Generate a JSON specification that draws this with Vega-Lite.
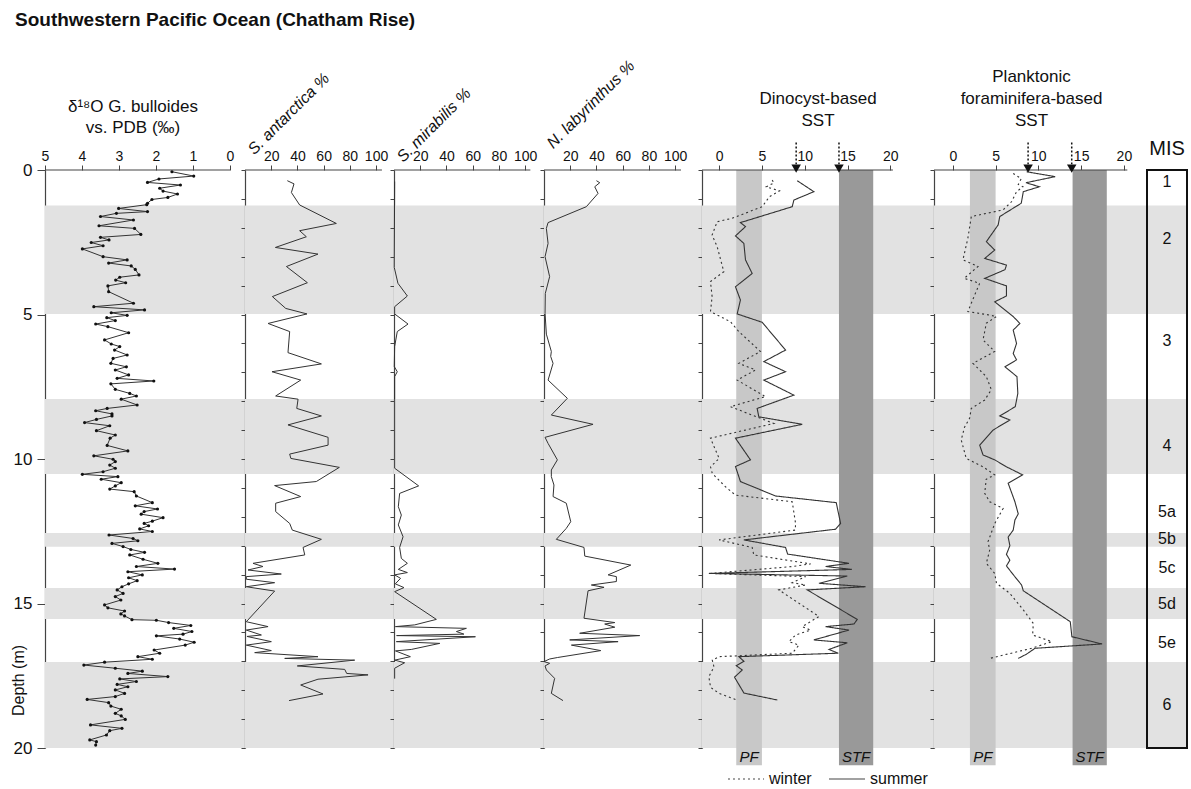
{
"$schema": "https://vega.github.io/schema/vega-lite/v6.json",
"padding": {"left": 10, "top": 10, "right": 0, "bottom": 0},
"title": {"text": "Southwestern Pacific Ocean (Chatham Rise)", "anchor": "start", "fontSize": 19, "fontWeight": "bold", "offset": 28, "dx": 5, "color": "#111"},
"spacing": 0,
"bounds": "flush",
"resolve": {"scale": {"strokeDash": "independent", "color": "independent"}, "legend": {"strokeDash": "independent"}},
"config": {
  "font": "Liberation Sans",
  "view": {"stroke": null},
  "axis": {"grid": false, "domainColor": "#444", "tickColor": "#444", "labelColor": "#111", "labelFont": "Liberation Sans", "titleFont": "Liberation Sans", "titleColor": "#111", "labelOverlap": false, "labelFlush": false},
  "title": {"font": "Liberation Sans", "color": "#111", "fontWeight": "normal"}
},
"datasets": {
  "bands": [{"top":1.23,"bottom":4.98},{"top":7.92,"bottom":10.52},{"top":12.56,"bottom":13.04},{"top":14.46,"bottom":15.54},{"top":17.02,"bottom":20}],
  "fronts": [{"front":"PF","lo":2,"hi":5},{"front":"STF","lo":14,"hi":18}],
  "arrows": [{"proxy":"dino","t":9},{"proxy":"dino","t":14},{"proxy":"foram","t":8.8},{"proxy":"foram","t":13.9}],
  "mis": [{"stage":"1","d":0.42},{"stage":"2","d":2.4},{"stage":"3","d":5.9},{"stage":"4","d":9.55},{"stage":"5a","d":11.83},{"stage":"5b","d":12.77},{"stage":"5c","d":13.77},{"stage":"5d","d":15.0},{"stage":"5e","d":16.37},{"stage":"6","d":18.5}],
  "d18o": [{"d":0.06,"v":1.57},{"d":0.21,"v":0.98},{"d":0.31,"v":1.92},{"d":0.43,"v":2.23},{"d":0.52,"v":1.34},{"d":0.63,"v":1.9},{"d":0.73,"v":1.81},{"d":0.83,"v":1.42},{"d":0.95,"v":1.68},{"d":1.02,"v":2.11},{"d":1.15,"v":2.23},{"d":1.2,"v":2.25},{"d":1.33,"v":3.01},{"d":1.44,"v":2.23},{"d":1.5,"v":3.07},{"d":1.61,"v":3.5},{"d":1.73,"v":2.61},{"d":1.93,"v":3.54},{"d":2.02,"v":2.58},{"d":2.23,"v":2.41},{"d":2.33,"v":3.5},{"d":2.42,"v":3.27},{"d":2.51,"v":3.75},{"d":2.62,"v":3.43},{"d":2.73,"v":3.99},{"d":3.0,"v":3.43},{"d":3.11,"v":2.78},{"d":3.22,"v":3.28},{"d":3.32,"v":2.67},{"d":3.44,"v":2.56},{"d":3.63,"v":2.46},{"d":3.71,"v":2.98},{"d":3.81,"v":3.09},{"d":3.9,"v":2.82},{"d":4.01,"v":3.3},{"d":4.21,"v":3.28},{"d":4.61,"v":2.61},{"d":4.73,"v":3.68},{"d":4.84,"v":2.31},{"d":4.94,"v":3.21},{"d":5.03,"v":2.78},{"d":5.11,"v":3.33},{"d":5.21,"v":3.1},{"d":5.33,"v":3.63},{"d":5.42,"v":3.3},{"d":5.63,"v":2.74},{"d":5.88,"v":3.39},{"d":6.02,"v":3.21},{"d":6.11,"v":2.98},{"d":6.23,"v":3.12},{"d":6.4,"v":2.78},{"d":6.52,"v":3.16},{"d":6.69,"v":3.22},{"d":6.81,"v":2.8},{"d":6.92,"v":3.1},{"d":7.09,"v":2.74},{"d":7.21,"v":3.05},{"d":7.3,"v":2.06},{"d":7.4,"v":3.22},{"d":7.59,"v":3.1},{"d":7.73,"v":2.71},{"d":7.82,"v":2.53},{"d":7.93,"v":2.94},{"d":8.13,"v":2.51},{"d":8.25,"v":3.32},{"d":8.33,"v":3.63},{"d":8.44,"v":3.19},{"d":8.51,"v":3.19},{"d":8.63,"v":3.61},{"d":8.74,"v":3.93},{"d":8.85,"v":3.25},{"d":9.02,"v":3.61},{"d":9.17,"v":3.1},{"d":9.28,"v":3.24},{"d":9.53,"v":3.32},{"d":9.72,"v":2.76},{"d":9.89,"v":3.68},{"d":10.01,"v":3.16},{"d":10.09,"v":3.1},{"d":10.21,"v":3.25},{"d":10.32,"v":3.1},{"d":10.44,"v":3.43},{"d":10.53,"v":3.99},{"d":10.61,"v":3.03},{"d":10.7,"v":3.48},{"d":10.82,"v":2.94},{"d":10.93,"v":3.1},{"d":11.04,"v":3.25},{"d":11.13,"v":2.59},{"d":11.28,"v":2.53},{"d":11.51,"v":2.1},{"d":11.62,"v":2.56},{"d":11.73,"v":1.96},{"d":11.82,"v":2.32},{"d":11.91,"v":2.4},{"d":12.03,"v":1.81},{"d":12.15,"v":2.1},{"d":12.23,"v":2.32},{"d":12.31,"v":2.2},{"d":12.42,"v":2.44},{"d":12.51,"v":2.1},{"d":12.63,"v":3.27},{"d":12.75,"v":2.62},{"d":12.83,"v":2.49},{"d":12.92,"v":3.19},{"d":13.03,"v":2.89},{"d":13.13,"v":2.68},{"d":13.23,"v":2.31},{"d":13.32,"v":2.71},{"d":13.47,"v":2.35},{"d":13.61,"v":1.95},{"d":13.72,"v":2.53},{"d":13.81,"v":1.5},{"d":13.9,"v":2.76},{"d":14.01,"v":2.37},{"d":14.11,"v":2.74},{"d":14.21,"v":2.51},{"d":14.32,"v":2.74},{"d":14.42,"v":2.92},{"d":14.53,"v":3.05},{"d":14.65,"v":2.89},{"d":14.76,"v":3.1},{"d":14.88,"v":2.95},{"d":15.05,"v":3.39},{"d":15.15,"v":3.3},{"d":15.26,"v":2.85},{"d":15.36,"v":2.95},{"d":15.43,"v":2.85},{"d":15.56,"v":2.65},{"d":15.58,"v":1.99},{"d":15.66,"v":1.66},{"d":15.76,"v":1.06},{"d":15.86,"v":1.52},{"d":15.97,"v":1.03},{"d":16.06,"v":1.27},{"d":16.12,"v":1.99},{"d":16.23,"v":1.36},{"d":16.34,"v":0.97},{"d":16.44,"v":1.21},{"d":16.61,"v":2.05},{"d":16.72,"v":1.9},{"d":16.84,"v":2.49},{"d":16.93,"v":2.1},{"d":17.03,"v":3.39},{"d":17.13,"v":3.95},{"d":17.24,"v":3.1},{"d":17.34,"v":2.37},{"d":17.42,"v":2.76},{"d":17.53,"v":1.68},{"d":17.61,"v":2.98},{"d":17.7,"v":2.53},{"d":17.8,"v":3.05},{"d":17.88,"v":2.76},{"d":17.99,"v":3.1},{"d":18.11,"v":2.85},{"d":18.22,"v":3.1},{"d":18.32,"v":3.86},{"d":18.43,"v":3.28},{"d":18.55,"v":3.22},{"d":18.66,"v":2.94},{"d":18.8,"v":3.1},{"d":18.89,"v":2.94},{"d":19.01,"v":2.83},{"d":19.2,"v":3.77},{"d":19.32,"v":2.92},{"d":19.4,"v":3.25},{"d":19.55,"v":3.34},{"d":19.72,"v":3.79},{"d":19.78,"v":3.61},{"d":19.9,"v":3.63}],
  "sant": [{"d":0.37,"v":32.3},{"d":0.48,"v":37.4},{"d":0.78,"v":35.4},{"d":1.21,"v":41.7},{"d":1.85,"v":69.7},{"d":2.1,"v":41.7},{"d":2.31,"v":46.8},{"d":2.68,"v":23.2},{"d":2.91,"v":55.7},{"d":3.34,"v":31.6},{"d":3.9,"v":47.6},{"d":4.38,"v":20.9},{"d":4.79,"v":31.1},{"d":4.98,"v":47.3},{"d":5.31,"v":17.6},{"d":5.59,"v":34.1},{"d":6.32,"v":32.8},{"d":6.71,"v":58.3},{"d":6.98,"v":20.6},{"d":7.27,"v":42.5},{"d":7.82,"v":23.4},{"d":7.93,"v":40.5},{"d":8.25,"v":39.5},{"d":8.51,"v":58.3},{"d":8.82,"v":32.8},{"d":9.25,"v":63.4},{"d":9.52,"v":63.4},{"d":9.83,"v":34.1},{"d":9.98,"v":35.0},{"d":10.29,"v":72.0},{"d":10.78,"v":54.4},{"d":10.92,"v":22.6},{"d":11.3,"v":42.5},{"d":11.53,"v":23.4},{"d":11.82,"v":23.4},{"d":12.23,"v":34.1},{"d":12.46,"v":36.1},{"d":12.78,"v":58.3},{"d":13.06,"v":44.3},{"d":13.32,"v":45.6},{"d":13.61,"v":6.1},{"d":13.72,"v":13.7},{"d":13.84,"v":2.3},{"d":13.98,"v":27.7},{"d":14.07,"v":1.0},{"d":14.16,"v":1.0},{"d":14.28,"v":22.6},{"d":14.42,"v":1.0},{"d":14.57,"v":22.6},{"d":15.63,"v":1.0},{"d":15.8,"v":17.6},{"d":15.92,"v":1.0},{"d":16.09,"v":12.5},{"d":16.14,"v":1.5},{"d":16.32,"v":20.1},{"d":16.44,"v":1.0},{"d":16.63,"v":20.1},{"d":16.7,"v":7.4},{"d":16.84,"v":55.7},{"d":16.9,"v":30.3},{"d":16.96,"v":83.7},{"d":17.16,"v":39.9},{"d":17.28,"v":76.1},{"d":17.42,"v":77.6},{"d":17.47,"v":93.9},{"d":17.62,"v":55.7},{"d":17.82,"v":42.5},{"d":18.13,"v":59.5},{"d":18.36,"v":33.6}],
  "smir": [{"d":0.4,"v":0.5},{"d":3.37,"v":0.2},{"d":3.92,"v":3},{"d":4.36,"v":10.2},{"d":4.73,"v":0.5},{"d":4.98,"v":0.5},{"d":5.33,"v":10.7},{"d":5.59,"v":2.5},{"d":6.11,"v":0.5},{"d":6.8,"v":0.2},{"d":6.98,"v":2.5},{"d":7.15,"v":0.5},{"d":10.32,"v":0.5},{"d":10.93,"v":18.8},{"d":11.19,"v":4.3},{"d":11.65,"v":3.3},{"d":11.94,"v":5.6},{"d":12.28,"v":3.3},{"d":12.69,"v":6.9},{"d":13.06,"v":4.3},{"d":13.44,"v":5.6},{"d":13.61,"v":10.2},{"d":13.82,"v":3.3},{"d":13.93,"v":10.2},{"d":14.01,"v":0.5},{"d":14.13,"v":5},{"d":14.32,"v":1},{"d":14.45,"v":7.6},{"d":14.59,"v":0.5},{"d":15.55,"v":32.3},{"d":15.74,"v":15.8},{"d":15.8,"v":1.1},{"d":15.86,"v":55.2},{"d":15.97,"v":47.6},{"d":16.06,"v":53.3},{"d":16.11,"v":2},{"d":16.15,"v":62.1},{"d":16.32,"v":1.8},{"d":16.38,"v":34.9},{"d":16.59,"v":13.2},{"d":16.64,"v":1.1},{"d":16.84,"v":12.5},{"d":16.96,"v":0.5},{"d":17.05,"v":8.1},{"d":17.24,"v":0.5},{"d":17.6,"v":0.5}],
  "nlab": [{"d":0.37,"v":40},{"d":0.44,"v":42.5},{"d":0.58,"v":38.7},{"d":0.81,"v":41.2},{"d":1.27,"v":32.3},{"d":1.82,"v":3.1},{"d":2.02,"v":1.8},{"d":2.54,"v":3.1},{"d":3.0,"v":0.8},{"d":3.69,"v":4.3},{"d":4.27,"v":1.0},{"d":4.96,"v":0.8},{"d":5.68,"v":1.8},{"d":6.28,"v":5.6},{"d":6.45,"v":5.1},{"d":6.69,"v":6.9},{"d":7.27,"v":3.1},{"d":7.9,"v":17.8},{"d":8.48,"v":5.6},{"d":8.8,"v":37.4},{"d":9.25,"v":0.8},{"d":9.46,"v":3.1},{"d":10.03,"v":10.2},{"d":10.38,"v":5.6},{"d":10.61,"v":5.6},{"d":10.9,"v":7.6},{"d":11.3,"v":6.9},{"d":11.53,"v":17},{"d":12.17,"v":20.4},{"d":12.4,"v":17},{"d":12.78,"v":9.4},{"d":13.06,"v":30.5},{"d":13.36,"v":31.1},{"d":13.67,"v":66.2},{"d":14.01,"v":48.9},{"d":14.07,"v":55.2},{"d":14.24,"v":55.2},{"d":14.36,"v":36.1},{"d":14.44,"v":45.8},{"d":14.56,"v":33.6},{"d":15.51,"v":30.5},{"d":15.66,"v":54},{"d":15.71,"v":46.3},{"d":15.82,"v":54},{"d":16.03,"v":27.2},{"d":16.11,"v":73},{"d":16.26,"v":19.6},{"d":16.32,"v":56.5},{"d":16.44,"v":20.9},{"d":16.63,"v":43.3},{"d":16.87,"v":10.2},{"d":16.92,"v":4.3},{"d":17.01,"v":0},{"d":17.07,"v":4.3},{"d":17.16,"v":0.8},{"d":17.3,"v":1.8},{"d":17.59,"v":8.1},{"d":18.11,"v":5.6},{"d":18.36,"v":14.5}],
  "sst": [
    {"proxy":"dino","season":"summer","d":0.37,"v":9.12},{"proxy":"dino","season":"summer","d":0.75,"v":11.07},{"proxy":"dino","season":"summer","d":1.04,"v":8.73},{"proxy":"dino","season":"summer","d":1.27,"v":8.54},{"proxy":"dino","season":"summer","d":1.82,"v":2.49},{"proxy":"dino","season":"summer","d":1.96,"v":3.08},{"proxy":"dino","season":"summer","d":2.28,"v":1.91},{"proxy":"dino","season":"summer","d":2.54,"v":2.89},{"proxy":"dino","season":"summer","d":3.11,"v":3.08},{"proxy":"dino","season":"summer","d":3.58,"v":3.86},{"proxy":"dino","season":"summer","d":4.04,"v":1.91},{"proxy":"dino","season":"summer","d":4.5,"v":2.49},{"proxy":"dino","season":"summer","d":4.98,"v":2.11},{"proxy":"dino","season":"summer","d":5.27,"v":5.03},{"proxy":"dino","season":"summer","d":6.23,"v":7.76},{"proxy":"dino","season":"summer","d":6.63,"v":5.22},{"proxy":"dino","season":"summer","d":6.98,"v":7.76},{"proxy":"dino","season":"summer","d":7.27,"v":5.22},{"proxy":"dino","season":"summer","d":7.79,"v":8.73},{"proxy":"dino","season":"summer","d":8.25,"v":4.44},{"proxy":"dino","season":"summer","d":8.54,"v":4.64},{"proxy":"dino","season":"summer","d":8.8,"v":9.71},{"proxy":"dino","season":"summer","d":9.28,"v":1.91},{"proxy":"dino","season":"summer","d":10.03,"v":3.66},{"proxy":"dino","season":"summer","d":10.26,"v":1.91},{"proxy":"dino","season":"summer","d":10.78,"v":2.49},{"proxy":"dino","season":"summer","d":11.28,"v":6.59},{"proxy":"dino","season":"summer","d":11.51,"v":13.68},{"proxy":"dino","season":"summer","d":12.23,"v":14.19},{"proxy":"dino","season":"summer","d":12.43,"v":13.6},{"proxy":"dino","season":"summer","d":12.8,"v":2.89},{"proxy":"dino","season":"summer","d":13.06,"v":7.76},{"proxy":"dino","season":"summer","d":13.29,"v":8.0},{"proxy":"dino","season":"summer","d":13.61,"v":15.17},{"proxy":"dino","season":"summer","d":13.72,"v":12.44},{"proxy":"dino","season":"summer","d":13.82,"v":15.5},{"proxy":"dino","season":"summer","d":13.96,"v":-1.2},{"proxy":"dino","season":"summer","d":14.05,"v":14.97},{"proxy":"dino","season":"summer","d":14.3,"v":11.66},{"proxy":"dino","season":"summer","d":14.42,"v":17.11},{"proxy":"dino","season":"summer","d":14.53,"v":10.29},{"proxy":"dino","season":"summer","d":15.55,"v":16.14},{"proxy":"dino","season":"summer","d":15.71,"v":15.75},{"proxy":"dino","season":"summer","d":15.8,"v":12.44},{"proxy":"dino","season":"summer","d":15.92,"v":15.17},{"proxy":"dino","season":"summer","d":16.26,"v":11.07},{"proxy":"dino","season":"summer","d":16.36,"v":14.97},{"proxy":"dino","season":"summer","d":16.59,"v":12.83},{"proxy":"dino","season":"summer","d":16.72,"v":13.92},{"proxy":"dino","season":"summer","d":16.84,"v":2.3},{"proxy":"dino","season":"summer","d":17.0,"v":2.9},{"proxy":"dino","season":"summer","d":17.15,"v":2.0},{"proxy":"dino","season":"summer","d":17.3,"v":2.7},{"proxy":"dino","season":"summer","d":17.55,"v":1.8},{"proxy":"dino","season":"summer","d":18.1,"v":2.9},{"proxy":"dino","season":"summer","d":18.34,"v":6.8},
    {"proxy":"dino","season":"winter","d":0.35,"v":6.2},{"proxy":"dino","season":"winter","d":0.45,"v":6.4},{"proxy":"dino","season":"winter","d":0.58,"v":5.5},{"proxy":"dino","season":"winter","d":0.72,"v":7.05},{"proxy":"dino","season":"winter","d":0.92,"v":5.88},{"proxy":"dino","season":"winter","d":1.27,"v":5.03},{"proxy":"dino","season":"winter","d":1.67,"v":1.52},{"proxy":"dino","season":"winter","d":1.79,"v":-0.23},{"proxy":"dino","season":"winter","d":2.25,"v":-0.82},{"proxy":"dino","season":"winter","d":2.65,"v":-0.23},{"proxy":"dino","season":"winter","d":3.52,"v":0.55},{"proxy":"dino","season":"winter","d":3.86,"v":-1.01},{"proxy":"dino","season":"winter","d":4.38,"v":-0.82},{"proxy":"dino","season":"winter","d":4.9,"v":-1.01},{"proxy":"dino","season":"winter","d":5.25,"v":1.32},{"proxy":"dino","season":"winter","d":5.59,"v":2.3},{"proxy":"dino","season":"winter","d":6.28,"v":4.83},{"proxy":"dino","season":"winter","d":6.69,"v":2.3},{"proxy":"dino","season":"winter","d":6.92,"v":4.25},{"proxy":"dino","season":"winter","d":7.27,"v":2.1},{"proxy":"dino","season":"winter","d":7.84,"v":5.42},{"proxy":"dino","season":"winter","d":8.19,"v":1.32},{"proxy":"dino","season":"winter","d":8.77,"v":6.39},{"proxy":"dino","season":"winter","d":9.28,"v":-1.01},{"proxy":"dino","season":"winter","d":9.98,"v":0},{"proxy":"dino","season":"winter","d":10.27,"v":-1},{"proxy":"dino","season":"winter","d":10.5,"v":-0.8},{"proxy":"dino","season":"winter","d":10.96,"v":0.74},{"proxy":"dino","season":"winter","d":11.25,"v":1.91},{"proxy":"dino","season":"winter","d":11.48,"v":8.54},{"proxy":"dino","season":"winter","d":12.23,"v":8.93},{"proxy":"dino","season":"winter","d":12.46,"v":8.9},{"proxy":"dino","season":"winter","d":12.8,"v":0},{"proxy":"dino","season":"winter","d":13.06,"v":3.86},{"proxy":"dino","season":"winter","d":13.32,"v":4.05},{"proxy":"dino","season":"winter","d":13.63,"v":10.68},{"proxy":"dino","season":"winter","d":13.72,"v":8.54},{"proxy":"dino","season":"winter","d":13.96,"v":-1},{"proxy":"dino","season":"winter","d":14.07,"v":10.1},{"proxy":"dino","season":"winter","d":14.28,"v":8.54},{"proxy":"dino","season":"winter","d":14.36,"v":10.1},{"proxy":"dino","season":"winter","d":14.53,"v":6.98},{"proxy":"dino","season":"winter","d":15.45,"v":11.66},{"proxy":"dino","season":"winter","d":15.8,"v":9.71},{"proxy":"dino","season":"winter","d":15.92,"v":10.68},{"proxy":"dino","season":"winter","d":16.09,"v":8.93},{"proxy":"dino","season":"winter","d":16.32,"v":8.15},{"proxy":"dino","season":"winter","d":16.44,"v":9.32},{"proxy":"dino","season":"winter","d":16.72,"v":8.54},{"proxy":"dino","season":"winter","d":16.84,"v":0},{"proxy":"dino","season":"winter","d":16.96,"v":-0.8},{"proxy":"dino","season":"winter","d":17.2,"v":-0.6},{"proxy":"dino","season":"winter","d":17.53,"v":-1.2},{"proxy":"dino","season":"winter","d":17.9,"v":-1.0},{"proxy":"dino","season":"winter","d":18.11,"v":0},{"proxy":"dino","season":"winter","d":18.32,"v":1.91},
    {"proxy":"foram","season":"summer","d":0.06,"v":8.63},{"proxy":"foram","season":"summer","d":0.23,"v":11.96},{"proxy":"foram","season":"summer","d":0.44,"v":8.55},{"proxy":"foram","season":"summer","d":0.58,"v":10.12},{"proxy":"foram","season":"summer","d":0.75,"v":8.24},{"proxy":"foram","season":"summer","d":1.15,"v":8.0},{"proxy":"foram","season":"summer","d":1.61,"v":5.49},{"proxy":"foram","season":"summer","d":1.9,"v":5.3},{"proxy":"foram","season":"summer","d":2.48,"v":3.92},{"proxy":"foram","season":"summer","d":2.77,"v":4.9},{"proxy":"foram","season":"summer","d":3.06,"v":3.73},{"proxy":"foram","season":"summer","d":3.29,"v":6.27},{"proxy":"foram","season":"summer","d":3.45,"v":6.1},{"proxy":"foram","season":"summer","d":3.75,"v":3.73},{"proxy":"foram","season":"summer","d":4.01,"v":6.27},{"proxy":"foram","season":"summer","d":4.36,"v":6.27},{"proxy":"foram","season":"summer","d":4.56,"v":4.9},{"proxy":"foram","season":"summer","d":5.07,"v":7.06},{"proxy":"foram","season":"summer","d":5.31,"v":7.84},{"proxy":"foram","season":"summer","d":5.54,"v":7.06},{"proxy":"foram","season":"summer","d":6.0,"v":7.45},{"proxy":"foram","season":"summer","d":6.35,"v":7.06},{"proxy":"foram","season":"summer","d":6.57,"v":7.45},{"proxy":"foram","season":"summer","d":6.81,"v":6.1},{"proxy":"foram","season":"summer","d":7.15,"v":7.5},{"proxy":"foram","season":"summer","d":7.73,"v":7.6},{"proxy":"foram","season":"summer","d":8.19,"v":7.3},{"proxy":"foram","season":"summer","d":8.51,"v":5.49},{"proxy":"foram","season":"summer","d":8.65,"v":6.67},{"proxy":"foram","season":"summer","d":9.0,"v":4.7},{"proxy":"foram","season":"summer","d":9.52,"v":3.14},{"proxy":"foram","season":"summer","d":9.86,"v":3.53},{"proxy":"foram","season":"summer","d":10.03,"v":4.9},{"proxy":"foram","season":"summer","d":10.27,"v":6.27},{"proxy":"foram","season":"summer","d":10.55,"v":8.16},{"proxy":"foram","season":"summer","d":10.84,"v":6.47},{"proxy":"foram","season":"summer","d":11.48,"v":7.26},{"proxy":"foram","season":"summer","d":11.9,"v":7.65},{"proxy":"foram","season":"summer","d":12.11,"v":7.26},{"proxy":"foram","season":"summer","d":12.46,"v":7.06},{"proxy":"foram","season":"summer","d":12.7,"v":6.47},{"proxy":"foram","season":"summer","d":13.0,"v":6.67},{"proxy":"foram","season":"summer","d":13.3,"v":6.27},{"proxy":"foram","season":"summer","d":13.5,"v":6.67},{"proxy":"foram","season":"summer","d":13.7,"v":6.27},{"proxy":"foram","season":"summer","d":14.0,"v":7.06},{"proxy":"foram","season":"summer","d":14.36,"v":8.04},{"proxy":"foram","season":"summer","d":14.56,"v":8.24},{"proxy":"foram","season":"summer","d":15.63,"v":13.73},{"proxy":"foram","season":"summer","d":16.15,"v":13.92},{"proxy":"foram","season":"summer","d":16.4,"v":17.45},{"proxy":"foram","season":"summer","d":16.55,"v":9.61},{"proxy":"foram","season":"summer","d":16.75,"v":8.63},{"proxy":"foram","season":"summer","d":16.9,"v":7.65},
    {"proxy":"foram","season":"winter","d":0.12,"v":7.06},{"proxy":"foram","season":"winter","d":0.3,"v":8.0},{"proxy":"foram","season":"winter","d":0.5,"v":7.65},{"proxy":"foram","season":"winter","d":0.58,"v":8.2},{"proxy":"foram","season":"winter","d":0.75,"v":7.45},{"proxy":"foram","season":"winter","d":1.1,"v":6.86},{"proxy":"foram","season":"winter","d":1.38,"v":5.88},{"proxy":"foram","season":"winter","d":1.61,"v":2.16},{"proxy":"foram","season":"winter","d":2.36,"v":1.76},{"proxy":"foram","season":"winter","d":3.11,"v":1.18},{"proxy":"foram","season":"winter","d":3.34,"v":2.94},{"proxy":"foram","season":"winter","d":3.75,"v":1.33},{"proxy":"foram","season":"winter","d":3.92,"v":3.14},{"proxy":"foram","season":"winter","d":4.33,"v":2.55},{"proxy":"foram","season":"winter","d":4.9,"v":1.76},{"proxy":"foram","season":"winter","d":5.0,"v":3.92},{"proxy":"foram","season":"winter","d":5.07,"v":5.1},{"proxy":"foram","season":"winter","d":5.3,"v":3.92},{"proxy":"foram","season":"winter","d":5.88,"v":3.53},{"proxy":"foram","season":"winter","d":6.28,"v":4.9},{"proxy":"foram","season":"winter","d":6.69,"v":2.35},{"proxy":"foram","season":"winter","d":7.15,"v":3.92},{"proxy":"foram","season":"winter","d":7.6,"v":4.5},{"proxy":"foram","season":"winter","d":7.96,"v":3.73},{"proxy":"foram","season":"winter","d":8.25,"v":2.16},{"proxy":"foram","season":"winter","d":8.59,"v":1.96},{"proxy":"foram","season":"winter","d":8.9,"v":1.37},{"proxy":"foram","season":"winter","d":9.34,"v":0.98},{"proxy":"foram","season":"winter","d":9.98,"v":1.57},{"proxy":"foram","season":"winter","d":10.27,"v":3.53},{"proxy":"foram","season":"winter","d":10.55,"v":4.9},{"proxy":"foram","season":"winter","d":10.7,"v":3.9},{"proxy":"foram","season":"winter","d":11.19,"v":3.73},{"proxy":"foram","season":"winter","d":11.48,"v":4.31},{"proxy":"foram","season":"winter","d":11.71,"v":5.88},{"proxy":"foram","season":"winter","d":12.23,"v":4.9},{"proxy":"foram","season":"winter","d":12.86,"v":4.12},{"proxy":"foram","season":"winter","d":13.15,"v":4.31},{"proxy":"foram","season":"winter","d":13.61,"v":3.92},{"proxy":"foram","season":"winter","d":13.96,"v":4.9},{"proxy":"foram","season":"winter","d":14.3,"v":5.1},{"proxy":"foram","season":"winter","d":14.65,"v":6.67},{"proxy":"foram","season":"winter","d":15.22,"v":8.24},{"proxy":"foram","season":"winter","d":15.69,"v":9.41},{"proxy":"foram","season":"winter","d":16.09,"v":9.33},{"proxy":"foram","season":"winter","d":16.32,"v":11.57},{"proxy":"foram","season":"winter","d":16.55,"v":9.2},{"proxy":"foram","season":"winter","d":16.9,"v":4.31}
  ]
},
"hconcat": [
  {
    "width": 200, "height": 578,
    "title": {"text": ["δ¹⁸O  G. bulloides", "vs. PDB (‰)"], "fontSize": 17, "offset": 12, "dx": -12, "lineHeight": 21},
    "layer": [
      {"data": {"name": "bands"}, "mark": {"type": "rect", "color": "#e2e2e2"},
       "encoding": {"x": {"value": 0}, "x2": {"value": "width"},
         "y": {"field": "top", "type": "quantitative", "scale": {"domain": [0, 20], "reverse": true, "nice": false, "zero": false},
           "axis": {"orient": "left", "title": "Depth (m)", "titleFontSize": 16, "titleFontWeight": "normal", "titleAngle": -90, "titleX": -27, "titleY": 510, "titleAlign": "center", "titleBaseline": "middle", "values": [0,5,10,15,20], "labelFontSize": 17, "labelPadding": 5, "labelOverlap": false, "tickSize": 8, "domainWidth": 1.2}},
         "y2": {"field": "bottom"}}},
      {"data": {"values": [{}]}, "mark": {"type": "rule", "color": "#444", "strokeWidth": 1.2},
       "encoding": {
         "x": {"datum": 5, "type": "quantitative", "scale": {"domain": [-0.405, 5], "reverse": true, "nice": false, "zero": false},
           "axis": {"orient": "top", "title": null, "domain": false, "values": [0,1,2,3,4,5], "labelFontSize": 14, "labelFlush": false, "labelOverlap": false, "labelPadding": 2, "tickSize": 5}},
         "x2": {"datum": 0},
         "y": {"datum": 0, "type": "quantitative",
           "axis": {"orient": "left", "title": "Depth (m)", "titleFontSize": 16, "titleFontWeight": "normal", "titleAngle": -90, "titleX": -27, "titleY": 510, "titleAlign": "center", "titleBaseline": "middle", "values": [0,5,10,15,20], "labelFontSize": 17, "labelPadding": 5, "labelOverlap": false, "tickSize": 8, "domainWidth": 1.2}}}},
      {"data": {"name": "d18o"}, "mark": {"type": "line", "color": "#333", "strokeWidth": 1, "point": {"filled": true, "size": 10, "color": "#111"}},
       "encoding": {
         "x": {"field": "v", "type": "quantitative", "scale": {"domain": [-0.405, 5], "reverse": true, "nice": false, "zero": false},
           "axis": {"orient": "top", "title": null, "domain": false, "values": [0,1,2,3,4,5], "labelFontSize": 14, "labelFlush": false, "labelOverlap": false, "labelPadding": 2, "tickSize": 5}},
         "y": {"field": "d", "type": "quantitative", "scale": {"domain": [0, 20], "reverse": true, "nice": false, "zero": false},
           "axis": {"orient": "left", "title": "Depth (m)", "titleFontSize": 16, "titleFontWeight": "normal", "titleAngle": -90, "titleX": -27, "titleY": 510, "titleAlign": "center", "titleBaseline": "middle", "values": [0,5,10,15,20], "labelFontSize": 17, "labelPadding": 5, "labelOverlap": false, "tickSize": 8, "domainWidth": 1.2}},
         "order": {"field": "d", "type": "quantitative"}}}
    ]
  },
  {
    "width": 149, "height": 578,
    "title": {"text": "S. antarctica %", "angle": -45, "anchor": "start", "frame": "group", "fontStyle": "italic", "fontSize": 16, "offset": -96, "baseline": "bottom", "align": "left", "dx": 8, "dy": 8},
    "layer": [
      {"data": {"name": "bands"}, "mark": {"type": "rect", "color": "#e2e2e2"},
       "encoding": {"x": {"value": 0}, "x2": {"value": "width"},
         "y": {"field": "top", "type": "quantitative", "scale": {"domain": [0, 20], "reverse": true, "nice": false, "zero": false},
           "axis": {"orient": "left", "title": null, "labels": false, "values": [0,1,2,3,4,5,6,7,8,9,10,11,12,13,14,15,16,17,18,19,20], "tickSize": 4, "domainWidth": 1.2}},
         "y2": {"field": "bottom"}}},
      {"data": {"values": [{}]}, "mark": {"type": "rule", "color": "#444", "strokeWidth": 1.2},
       "encoding": {
         "x": {"datum": 0, "type": "quantitative", "scale": {"domain": [0, 113.7], "nice": false, "zero": false},
           "axis": {"orient": "top", "title": null, "domain": false, "values": [20,40,60,80,100], "labelFontSize": 14, "labelFlush": false, "labelOverlap": false, "labelPadding": 2, "tickSize": 5}},
         "x2": {"datum": 104.5},
         "y": {"datum": 0, "type": "quantitative",
           "axis": {"orient": "left", "title": null, "labels": false, "values": [0,1,2,3,4,5,6,7,8,9,10,11,12,13,14,15,16,17,18,19,20], "tickSize": 4, "domainWidth": 1.2}}}},
      {"data": {"name": "sant"}, "mark": {"type": "line", "color": "#333", "strokeWidth": 1},
       "encoding": {
         "x": {"field": "v", "type": "quantitative", "scale": {"domain": [0, 113.7], "nice": false, "zero": false},
           "axis": {"orient": "top", "title": null, "domain": false, "values": [20,40,60,80,100], "labelFontSize": 14, "labelFlush": false, "labelOverlap": false, "labelPadding": 2, "tickSize": 5}},
         "y": {"field": "d", "type": "quantitative", "scale": {"domain": [0, 20], "reverse": true, "nice": false, "zero": false},
           "axis": {"orient": "left", "title": null, "labels": false, "values": [0,1,2,3,4,5,6,7,8,9,10,11,12,13,14,15,16,17,18,19,20], "tickSize": 4, "domainWidth": 1.2}},
         "order": {"field": "d", "type": "quantitative"}}}
    ]
  },
  {
    "width": 150, "height": 578,
    "title": {"text": "S. mirabilis %", "angle": -45, "anchor": "start", "frame": "group", "fontStyle": "italic", "fontSize": 16, "offset": -96, "baseline": "bottom", "align": "left", "dx": 8, "dy": 8},
    "layer": [
      {"data": {"name": "bands"}, "mark": {"type": "rect", "color": "#e2e2e2"},
       "encoding": {"x": {"value": 0}, "x2": {"value": "width"},
         "y": {"field": "top", "type": "quantitative", "scale": {"domain": [0, 20], "reverse": true, "nice": false, "zero": false},
           "axis": {"orient": "left", "title": null, "labels": false, "values": [0,1,2,3,4,5,6,7,8,9,10,11,12,13,14,15,16,17,18,19,20], "tickSize": 4, "domainWidth": 1.2}},
         "y2": {"field": "bottom"}}},
      {"data": {"values": [{}]}, "mark": {"type": "rule", "color": "#444", "strokeWidth": 1.2},
       "encoding": {
         "x": {"datum": 0, "type": "quantitative", "scale": {"domain": [0, 114.4], "nice": false, "zero": false},
           "axis": {"orient": "top", "title": null, "domain": false, "values": [20,40,60,80,100], "labelFontSize": 14, "labelFlush": false, "labelOverlap": false, "labelPadding": 2, "tickSize": 5}},
         "x2": {"datum": 104},
         "y": {"datum": 0, "type": "quantitative",
           "axis": {"orient": "left", "title": null, "labels": false, "values": [0,1,2,3,4,5,6,7,8,9,10,11,12,13,14,15,16,17,18,19,20], "tickSize": 4, "domainWidth": 1.2}}}},
      {"data": {"name": "smir"}, "mark": {"type": "line", "color": "#333", "strokeWidth": 1},
       "encoding": {
         "x": {"field": "v", "type": "quantitative", "scale": {"domain": [0, 114.4], "nice": false, "zero": false},
           "axis": {"orient": "top", "title": null, "domain": false, "values": [20,40,60,80,100], "labelFontSize": 14, "labelFlush": false, "labelOverlap": false, "labelPadding": 2, "tickSize": 5}},
         "y": {"field": "d", "type": "quantitative", "scale": {"domain": [0, 20], "reverse": true, "nice": false, "zero": false},
           "axis": {"orient": "left", "title": null, "labels": false, "values": [0,1,2,3,4,5,6,7,8,9,10,11,12,13,14,15,16,17,18,19,20], "tickSize": 4, "domainWidth": 1.2}},
         "order": {"field": "d", "type": "quantitative"}}}
    ]
  },
  {
    "width": 158, "height": 578,
    "title": {"text": "N. labyrinthus %", "angle": -45, "anchor": "start", "frame": "group", "fontStyle": "italic", "fontSize": 16, "offset": -96, "baseline": "bottom", "align": "left", "dx": 8, "dy": 8},
    "layer": [
      {"data": {"name": "bands"}, "mark": {"type": "rect", "color": "#e2e2e2"},
       "encoding": {"x": {"value": 0}, "x2": {"value": "width"},
         "y": {"field": "top", "type": "quantitative", "scale": {"domain": [0, 20], "reverse": true, "nice": false, "zero": false},
           "axis": {"orient": "left", "title": null, "labels": false, "values": [0,1,2,3,4,5,6,7,8,9,10,11,12,13,14,15,16,17,18,19,20], "tickSize": 4, "domainWidth": 1.2}},
         "y2": {"field": "bottom"}}},
      {"data": {"values": [{}]}, "mark": {"type": "rule", "color": "#444", "strokeWidth": 1.2},
       "encoding": {
         "x": {"datum": 0, "type": "quantitative", "scale": {"domain": [0, 120.5], "nice": false, "zero": false},
           "axis": {"orient": "top", "title": null, "domain": false, "values": [20,40,60,80,100], "labelFontSize": 14, "labelFlush": false, "labelOverlap": false, "labelPadding": 2, "tickSize": 5}},
         "x2": {"datum": 104.5},
         "y": {"datum": 0, "type": "quantitative",
           "axis": {"orient": "left", "title": null, "labels": false, "values": [0,1,2,3,4,5,6,7,8,9,10,11,12,13,14,15,16,17,18,19,20], "tickSize": 4, "domainWidth": 1.2}}}},
      {"data": {"name": "nlab"}, "mark": {"type": "line", "color": "#333", "strokeWidth": 1},
       "encoding": {
         "x": {"field": "v", "type": "quantitative", "scale": {"domain": [0, 120.5], "nice": false, "zero": false},
           "axis": {"orient": "top", "title": null, "domain": false, "values": [20,40,60,80,100], "labelFontSize": 14, "labelFlush": false, "labelOverlap": false, "labelPadding": 2, "tickSize": 5}},
         "y": {"field": "d", "type": "quantitative", "scale": {"domain": [0, 20], "reverse": true, "nice": false, "zero": false},
           "axis": {"orient": "left", "title": null, "labels": false, "values": [0,1,2,3,4,5,6,7,8,9,10,11,12,13,14,15,16,17,18,19,20], "tickSize": 4, "domainWidth": 1.2}},
         "order": {"field": "d", "type": "quantitative"}}}
    ]
  },
  {
    "width": 232, "height": 578,
    "title": {"text": ["Dinocyst-based", "SST"], "fontSize": 17, "offset": 12, "lineHeight": 22},
    "layer": [
      {"data": {"name": "bands"}, "mark": {"type": "rect", "color": "#e2e2e2"},
       "encoding": {"x": {"value": 0}, "x2": {"value": "width"},
         "y": {"field": "top", "type": "quantitative", "scale": {"domain": [0, 20], "reverse": true, "nice": false, "zero": false},
           "axis": {"orient": "left", "title": null, "labels": false, "values": [0,1,2,3,4,5,6,7,8,9,10,11,12,13,14,15,16,17,18,19,20], "tickSize": 4, "domainWidth": 1.2}},
         "y2": {"field": "bottom"}}},
      {"data": {"name": "fronts"}, "mark": {"type": "rect"},
       "encoding": {
         "x": {"field": "lo", "type": "quantitative", "scale": {"domain": [-2, 25.1], "nice": false, "zero": false},
           "axis": {"orient": "top", "title": null, "domain": false, "values": [0,5,10,15,20], "labelFontSize": 14, "labelFlush": false, "labelOverlap": false, "labelPadding": 2, "tickSize": 5}},
         "x2": {"field": "hi"},
         "y": {"datum": 0, "type": "quantitative",
           "axis": {"orient": "left", "title": null, "labels": false, "values": [0,1,2,3,4,5,6,7,8,9,10,11,12,13,14,15,16,17,18,19,20], "tickSize": 4, "domainWidth": 1.2}},
         "y2": {"datum": 20.6},
         "color": {"field": "front", "type": "nominal", "scale": {"domain": ["PF", "STF"], "range": ["#c8c8c8", "#999999"]}, "legend": null}}},
      {"data": {"name": "fronts"}, "transform": [{"calculate": "(datum.lo + datum.hi) / 2", "as": "mid"}],
       "mark": {"type": "text", "fontSize": 15, "fontStyle": "italic", "color": "#111", "baseline": "middle"},
       "encoding": {
         "x": {"field": "mid", "type": "quantitative",
           "axis": {"orient": "top", "title": null, "domain": false, "values": [0,5,10,15,20], "labelFontSize": 14, "labelFlush": false, "labelOverlap": false, "labelPadding": 2, "tickSize": 5}},
         "y": {"datum": 20.32, "type": "quantitative",
           "axis": {"orient": "left", "title": null, "labels": false, "values": [0,1,2,3,4,5,6,7,8,9,10,11,12,13,14,15,16,17,18,19,20], "tickSize": 4, "domainWidth": 1.2}},
         "text": {"field": "front"}}},
      {"data": {"values": [{}]}, "mark": {"type": "rule", "color": "#444", "strokeWidth": 1.2},
       "encoding": {
         "x": {"datum": -2, "type": "quantitative",
           "axis": {"orient": "top", "title": null, "domain": false, "values": [0,5,10,15,20], "labelFontSize": 14, "labelFlush": false, "labelOverlap": false, "labelPadding": 2, "tickSize": 5}},
         "x2": {"datum": 20.3},
         "y": {"datum": 0, "type": "quantitative",
           "axis": {"orient": "left", "title": null, "labels": false, "values": [0,1,2,3,4,5,6,7,8,9,10,11,12,13,14,15,16,17,18,19,20], "tickSize": 4, "domainWidth": 1.2}}}},
      {"data": {"name": "sst"}, "transform": [{"filter": "datum.proxy === 'dino'"}], "mark": {"type": "line", "color": "#333", "strokeWidth": 1.1},
       "encoding": {
         "x": {"field": "v", "type": "quantitative", "scale": {"domain": [-2, 25.1], "nice": false, "zero": false},
           "axis": {"orient": "top", "title": null, "domain": false, "values": [0,5,10,15,20], "labelFontSize": 14, "labelFlush": false, "labelOverlap": false, "labelPadding": 2, "tickSize": 5}},
         "y": {"field": "d", "type": "quantitative", "scale": {"domain": [0, 20], "reverse": true, "nice": false, "zero": false},
           "axis": {"orient": "left", "title": null, "labels": false, "values": [0,1,2,3,4,5,6,7,8,9,10,11,12,13,14,15,16,17,18,19,20], "tickSize": 4, "domainWidth": 1.2}},
         "strokeDash": {"field": "season", "type": "nominal", "scale": {"domain": ["winter", "summer"], "range": [[2, 3], [1, 0]]},
           "legend": {"orient": "none", "legendX": 25, "legendY": 590, "direction": "horizontal", "title": null, "symbolType": "stroke", "symbolSize": 1300, "symbolStrokeWidth": 1.2, "symbolStrokeColor": "#444", "labelFontSize": 16, "labelOffset": 4, "columnPadding": 14, "labelColor": "#111"}},
         "order": {"field": "d", "type": "quantitative"}}},
      {"data": {"name": "arrows"}, "transform": [{"filter": "datum.proxy === 'dino'"}], "mark": {"type": "rule", "color": "#111", "strokeWidth": 1.5, "strokeDash": [2, 2]},
       "encoding": {
         "x": {"field": "t", "type": "quantitative",
           "axis": {"orient": "top", "title": null, "domain": false, "values": [0,5,10,15,20], "labelFontSize": 14, "labelFlush": false, "labelOverlap": false, "labelPadding": 2, "tickSize": 5}},
         "y": {"datum": -0.95, "type": "quantitative",
           "axis": {"orient": "left", "title": null, "labels": false, "values": [0,1,2,3,4,5,6,7,8,9,10,11,12,13,14,15,16,17,18,19,20], "tickSize": 4, "domainWidth": 1.2}},
         "y2": {"datum": -0.2}}},
      {"data": {"name": "arrows"}, "transform": [{"filter": "datum.proxy === 'dino'"}], "mark": {"type": "point", "shape": "triangle-down", "filled": true, "color": "#111", "size": 90, "opacity": 1},
       "encoding": {
         "x": {"field": "t", "type": "quantitative",
           "axis": {"orient": "top", "title": null, "domain": false, "values": [0,5,10,15,20], "labelFontSize": 14, "labelFlush": false, "labelOverlap": false, "labelPadding": 2, "tickSize": 5}},
         "y": {"datum": -0.05, "type": "quantitative",
           "axis": {"orient": "left", "title": null, "labels": false, "values": [0,1,2,3,4,5,6,7,8,9,10,11,12,13,14,15,16,17,18,19,20], "tickSize": 4, "domainWidth": 1.2}}}}
    ]
  },
  {
    "width": 213, "height": 578,
    "title": {"text": ["Planktonic", "foraminifera-based", "SST"], "fontSize": 17, "offset": 12, "lineHeight": 22, "dx": -9},
    "layer": [
      {"data": {"name": "bands"}, "mark": {"type": "rect", "color": "#e2e2e2"},
       "encoding": {"x": {"value": 0}, "x2": {"value": "width"},
         "y": {"field": "top", "type": "quantitative", "scale": {"domain": [0, 20], "reverse": true, "nice": false, "zero": false},
           "axis": {"orient": "left", "title": null, "labels": false, "values": [0,1,2,3,4,5,6,7,8,9,10,11,12,13,14,15,16,17,18,19,20], "tickSize": 4, "domainWidth": 1.2}},
         "y2": {"field": "bottom"}}},
      {"data": {"name": "fronts"}, "mark": {"type": "rect"},
       "encoding": {
         "x": {"field": "lo", "type": "quantitative", "scale": {"domain": [-2.2, 22.7], "nice": false, "zero": false},
           "axis": {"orient": "top", "title": null, "domain": false, "values": [0,5,10,15,20], "labelFontSize": 14, "labelFlush": false, "labelOverlap": false, "labelPadding": 2, "tickSize": 5}},
         "x2": {"field": "hi"},
         "y": {"datum": 0, "type": "quantitative",
           "axis": {"orient": "left", "title": null, "labels": false, "values": [0,1,2,3,4,5,6,7,8,9,10,11,12,13,14,15,16,17,18,19,20], "tickSize": 4, "domainWidth": 1.2}},
         "y2": {"datum": 20.6},
         "color": {"field": "front", "type": "nominal", "scale": {"domain": ["PF", "STF"], "range": ["#c8c8c8", "#999999"]}, "legend": null}}},
      {"data": {"name": "fronts"}, "transform": [{"calculate": "(datum.lo + datum.hi) / 2", "as": "mid"}],
       "mark": {"type": "text", "fontSize": 15, "fontStyle": "italic", "color": "#111", "baseline": "middle"},
       "encoding": {
         "x": {"field": "mid", "type": "quantitative",
           "axis": {"orient": "top", "title": null, "domain": false, "values": [0,5,10,15,20], "labelFontSize": 14, "labelFlush": false, "labelOverlap": false, "labelPadding": 2, "tickSize": 5}},
         "y": {"datum": 20.32, "type": "quantitative",
           "axis": {"orient": "left", "title": null, "labels": false, "values": [0,1,2,3,4,5,6,7,8,9,10,11,12,13,14,15,16,17,18,19,20], "tickSize": 4, "domainWidth": 1.2}},
         "text": {"field": "front"}}},
      {"data": {"values": [{}]}, "mark": {"type": "rule", "color": "#444", "strokeWidth": 1.2},
       "encoding": {
         "x": {"datum": -2.2, "type": "quantitative",
           "axis": {"orient": "top", "title": null, "domain": false, "values": [0,5,10,15,20], "labelFontSize": 14, "labelFlush": false, "labelOverlap": false, "labelPadding": 2, "tickSize": 5}},
         "x2": {"datum": 20.4},
         "y": {"datum": 0, "type": "quantitative",
           "axis": {"orient": "left", "title": null, "labels": false, "values": [0,1,2,3,4,5,6,7,8,9,10,11,12,13,14,15,16,17,18,19,20], "tickSize": 4, "domainWidth": 1.2}}}},
      {"data": {"name": "sst"}, "transform": [{"filter": "datum.proxy === 'foram'"}], "mark": {"type": "line", "color": "#333", "strokeWidth": 1.1},
       "encoding": {
         "x": {"field": "v", "type": "quantitative", "scale": {"domain": [-2.2, 22.7], "nice": false, "zero": false},
           "axis": {"orient": "top", "title": null, "domain": false, "values": [0,5,10,15,20], "labelFontSize": 14, "labelFlush": false, "labelOverlap": false, "labelPadding": 2, "tickSize": 5}},
         "y": {"field": "d", "type": "quantitative", "scale": {"domain": [0, 20], "reverse": true, "nice": false, "zero": false},
           "axis": {"orient": "left", "title": null, "labels": false, "values": [0,1,2,3,4,5,6,7,8,9,10,11,12,13,14,15,16,17,18,19,20], "tickSize": 4, "domainWidth": 1.2}},
         "strokeDash": {"field": "season", "type": "nominal", "scale": {"domain": ["winter", "summer"], "range": [[2, 3], [1, 0]]}, "legend": null},
         "order": {"field": "d", "type": "quantitative"}}},
      {"data": {"name": "arrows"}, "transform": [{"filter": "datum.proxy === 'foram'"}], "mark": {"type": "rule", "color": "#111", "strokeWidth": 1.5, "strokeDash": [2, 2]},
       "encoding": {
         "x": {"field": "t", "type": "quantitative",
           "axis": {"orient": "top", "title": null, "domain": false, "values": [0,5,10,15,20], "labelFontSize": 14, "labelFlush": false, "labelOverlap": false, "labelPadding": 2, "tickSize": 5}},
         "y": {"datum": -0.95, "type": "quantitative",
           "axis": {"orient": "left", "title": null, "labels": false, "values": [0,1,2,3,4,5,6,7,8,9,10,11,12,13,14,15,16,17,18,19,20], "tickSize": 4, "domainWidth": 1.2}},
         "y2": {"datum": -0.2}}},
      {"data": {"name": "arrows"}, "transform": [{"filter": "datum.proxy === 'foram'"}], "mark": {"type": "point", "shape": "triangle-down", "filled": true, "color": "#111", "size": 90, "opacity": 1},
       "encoding": {
         "x": {"field": "t", "type": "quantitative",
           "axis": {"orient": "top", "title": null, "domain": false, "values": [0,5,10,15,20], "labelFontSize": 14, "labelFlush": false, "labelOverlap": false, "labelPadding": 2, "tickSize": 5}},
         "y": {"datum": -0.05, "type": "quantitative",
           "axis": {"orient": "left", "title": null, "labels": false, "values": [0,1,2,3,4,5,6,7,8,9,10,11,12,13,14,15,16,17,18,19,20], "tickSize": 4, "domainWidth": 1.2}}}}
    ]
  },
  {
    "width": 40, "height": 578,
    "title": {"text": "MIS", "fontSize": 20, "offset": 10},
    "layer": [
      {"data": {"name": "bands"}, "mark": {"type": "rect", "color": "#e2e2e2"},
       "encoding": {"x": {"value": 0}, "x2": {"value": "width"},
         "y": {"field": "top", "type": "quantitative", "scale": {"domain": [0, 20], "reverse": true, "nice": false, "zero": false}, "axis": null},
         "y2": {"field": "bottom"}}},
      {"data": {"values": [{}]}, "mark": {"type": "rect", "filled": false, "stroke": "#111", "strokeWidth": 2},
       "encoding": {"x": {"datum": 0, "type": "quantitative", "scale": {"domain": [0, 1], "nice": false, "zero": false}, "axis": null}, "x2": {"datum": 1},
         "y": {"datum": 0, "type": "quantitative", "axis": null}, "y2": {"datum": 20}}},
      {"data": {"name": "mis"}, "mark": {"type": "text", "fontSize": 16, "color": "#111", "baseline": "middle"},
       "encoding": {"x": {"datum": 0.5, "type": "quantitative", "axis": null}, "y": {"field": "d", "type": "quantitative", "scale": {"domain": [0, 20], "reverse": true, "nice": false, "zero": false}, "axis": null}, "text": {"field": "stage"}}}
    ]
  }
]
}
